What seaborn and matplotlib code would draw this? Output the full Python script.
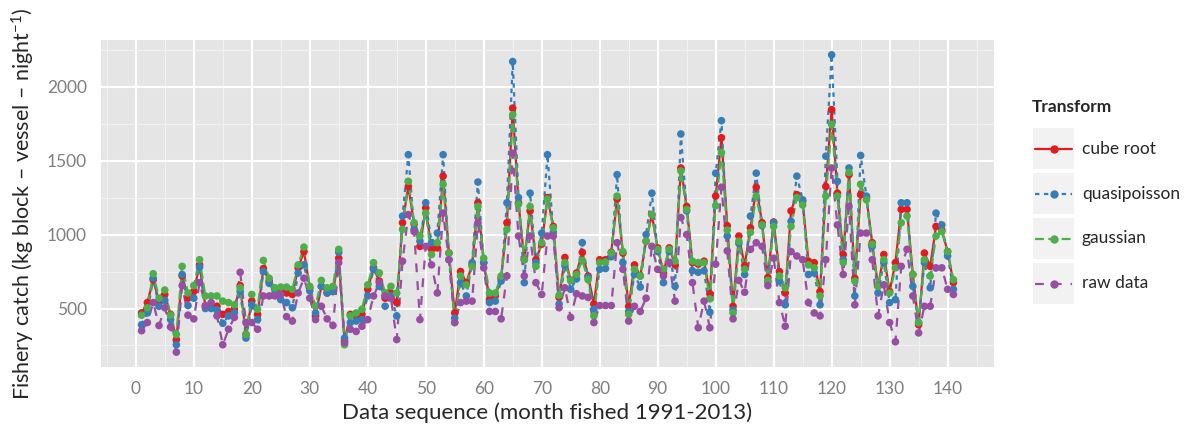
import pandas as pd
import matplotlib
matplotlib.use("Agg")
import matplotlib.pyplot as plt
import seaborn as sns
from matplotlib.ticker import MultipleLocator
from matplotlib.lines import Line2D
from matplotlib.patches import Rectangle

# month index 1..141 (1991-2013)
month = list(range(1, 142))

cube_root = [
    470, 540, 695, 550, 595, 460, 290, 720, 570, 615,
    795, 515, 505, 515, 460, 480, 495, 655, 325, 550,
    460, 770, 685, 630, 630, 605, 595, 775, 885, 640,
    450, 650, 605, 615, 840, 280, 460, 445, 460, 630,
    775, 685, 570, 605, 540, 1080, 1325, 1070, 920, 1180,
    900, 910, 1395, 875, 470, 750, 675, 795, 1215, 810,
    560, 585, 705, 1080, 1855, 1215, 830, 1160, 830, 935,
    1250, 1055, 575, 845, 690, 740, 880, 720, 530, 830,
    830, 880, 1240, 875, 515, 795, 720, 955, 1135, 910,
    740, 910, 795, 1450, 1190, 810, 800, 820, 600, 1260,
    1655, 1060, 515, 990, 790, 1045, 1320, 1080, 710, 1085,
    750, 605, 1160, 1270, 1225, 820, 810, 615, 1325, 1845,
    1280, 865, 1405, 705, 1270, 1250, 945, 650, 865, 615,
    810, 1170, 1170, 730, 390, 875, 785, 1055, 1030, 885,
    675,
]

quasipoisson = [
    390, 470, 705, 515, 555, 425, 255, 730, 520, 570,
    780, 500, 500, 490, 400, 450, 470, 615, 300, 525,
    425, 750, 670, 605, 560, 540, 505, 740, 795, 620,
    470, 650, 605, 615, 880, 300, 405, 415, 425, 585,
    765, 650, 515, 585, 450, 1125, 1540, 1035, 955, 1215,
    945, 1010, 1540, 830, 435, 675, 585, 810, 1355, 810,
    540, 550, 685, 1215, 2170, 1250, 675, 1280, 810, 1010,
    1540, 1015, 530, 790, 630, 700, 945, 710, 495, 765,
    770, 850, 1405, 810, 480, 730, 645, 1000, 1280, 885,
    675, 885, 650, 1680, 1160, 755, 745, 755, 475, 1415,
    1770, 990, 490, 940, 730, 1125, 1415, 1060, 680, 1080,
    685, 525, 1090, 1395, 1235, 730, 740, 525, 1530, 2215,
    1360, 830, 1450, 585, 1535, 1260, 920, 605, 810, 540,
    560, 1215, 1215, 650, 405, 810, 640, 1145, 1065, 855,
    630,
]

gaussian = [
    455, 505, 735, 570, 625, 455, 325, 785, 605, 655,
    830, 585, 585, 585, 550, 540, 525, 640, 325, 595,
    495, 825, 705, 640, 645, 645, 630, 795, 915, 650,
    515, 690, 640, 650, 900, 255, 450, 470, 495, 660,
    810, 740, 605, 650, 605, 1035, 1360, 1080, 990, 1145,
    865, 945, 1340, 875, 405, 720, 660, 785, 1190, 840,
    605, 605, 720, 1035, 1810, 1205, 830, 1190, 785, 945,
    1240, 1045, 590, 810, 690, 730, 825, 695, 450, 810,
    815, 875, 1260, 885, 460, 765, 720, 955, 1135, 900,
    765, 900, 820, 1430, 1170, 820, 810, 810, 565, 1195,
    1555, 1030, 470, 955, 765, 1015, 1260, 1065, 690, 1055,
    720, 640, 1055, 1250, 1200, 795, 775, 585, 1260, 1745,
    1260, 810, 1420, 685, 1340, 1235, 935, 650, 830, 605,
    775, 1080, 1125, 730, 405, 830, 720, 990, 1020, 885,
    695,
]

raw_data = [
    350, 405, 540, 385, 505, 375, 205, 655, 455, 430,
    675, 520, 540, 450, 255, 360, 440, 745, 405, 405,
    360, 585, 585, 585, 595, 445, 415, 605, 705, 570,
    425, 515, 430, 385, 810, 270, 360, 345, 380, 425,
    585, 675, 585, 570, 290, 820, 1135, 1020, 425, 920,
    795, 605, 1145, 830, 405, 540, 550, 550, 1080, 775,
    480, 480, 430, 720, 1550, 990, 720, 990, 675, 595,
    990, 990, 505, 640, 440, 600, 585, 575, 405, 520,
    520, 520, 945, 765, 415, 515, 480, 570, 920, 765,
    720, 810, 550, 1115, 1000, 675, 370, 550, 370, 800,
    1320, 890, 430, 690, 610, 900, 945, 920, 655, 840,
    540, 380, 885, 855, 830, 540, 470, 450, 830, 1450,
    1065, 730, 1190, 525, 1010, 1010, 830, 450, 660, 405,
    275, 785, 900, 585, 335, 515, 515, 775, 775, 630,
    595,
]

transforms = ["cube root", "quasipoisson", "gaussian", "raw data"]
colors = ["#E41A1C", "#377EB8", "#4DAF4A", "#984EA3"]
dash_styles = ["", (2, 2), (4, 2), (4, 4)]

palette = dict(zip(transforms, colors))
dashes = dict(zip(transforms, dash_styles))

df = pd.concat([
    pd.DataFrame({"month": month, "catch": vals, "Transform": name})
    for name, vals in zip(transforms, [cube_root, quasipoisson, gaussian, raw_data])
])

# ggplot-like grey theme
sns.set_style("darkgrid", {
    "axes.facecolor": "#E5E5E5",
    "grid.color": "white",
    "axes.edgecolor": "#E5E5E5",
})
plt.rcParams["font.family"] = ["Lato", "DejaVu Sans"]
plt.rcParams["mathtext.fontset"] = "custom"
plt.rcParams["mathtext.rm"] = "Lato"
plt.rcParams["mathtext.it"] = "Lato"

fig = plt.figure(figsize=(11.94, 4.34), dpi=100)
ax = fig.add_axes([101 / 1194, 1 - 367 / 434, (994 - 101) / 1194, (367 - 40) / 434])

# lines first, then points on top (like geom_line + geom_point)
sns.lineplot(data=df, x="month", y="catch", hue="Transform", style="Transform",
             hue_order=transforms, style_order=transforms, palette=palette,
             dashes=dashes, linewidth=1.6, legend=False, ax=ax, zorder=2)
sns.scatterplot(data=df, x="month", y="catch", hue="Transform", hue_order=transforms,
                palette=palette, s=30, linewidth=0, legend=False, ax=ax, zorder=3)

# ggplot default expansion (5%)
ymin, ymax = df["catch"].min(), df["catch"].max()
yr = ymax - ymin
ax.set_xlim(1 - 0.05 * 140, 141 + 0.05 * 140)
ax.set_ylim(ymin - 0.05 * yr, ymax + 0.05 * yr)

ax.xaxis.set_minor_locator(MultipleLocator(5))
ax.yaxis.set_minor_locator(MultipleLocator(250))
ax.set_yticks([500, 1000, 1500, 2000])
ax.set_xticks(range(0, 141, 10))
ax.grid(which="major", color="white", linewidth=1.5)
ax.grid(which="minor", color="#F2F2F2", linewidth=0.7)
ax.set_axisbelow(True)
for s in ax.spines.values():
    s.set_visible(False)

ax.tick_params(which="major", length=5, width=1, color="#7F7F7F",
               labelcolor="#7F7F7F", labelsize=12.5, pad=5)
ax.tick_params(which="minor", length=0)

ax.set_xlabel("Data sequence (month fished 1991-2013)", fontsize=16, labelpad=4)
ax.set_ylabel("Fishery catch (kg block \u2013 vessel \u2013 night$^{-1}$)", fontsize=15.5, labelpad=7)

# legend drawn in pixel space, ggplot style keys
lax = fig.add_axes([0, 0, 1, 1], facecolor="none")
lax.set_xlim(0, 1194)
lax.set_ylim(434, 0)
lax.axis("off")
lax.text(1032, 107, "Transform", fontsize=12.5, fontweight="bold", va="center", ha="left")
for i, (name, col, dsh) in enumerate(zip(transforms, colors, dash_styles)):
    y0 = 127 + 45 * i
    lax.add_patch(Rectangle((1032, y0), 43, 43, facecolor="#F2F2F2", edgecolor="white", lw=1.5))
    yc = y0 + 21.5
    ln = Line2D([1035, 1072], [yc, yc], color=col, lw=1.6)
    if dsh:
        ln.set_dashes(dsh)
    lax.add_line(ln)
    lax.plot([1053.5], [yc], "o", color=col, ms=5)
    lax.text(1082, yc, name, fontsize=12.5, va="center", ha="left")

fig.savefig("out.png", dpi=100)
